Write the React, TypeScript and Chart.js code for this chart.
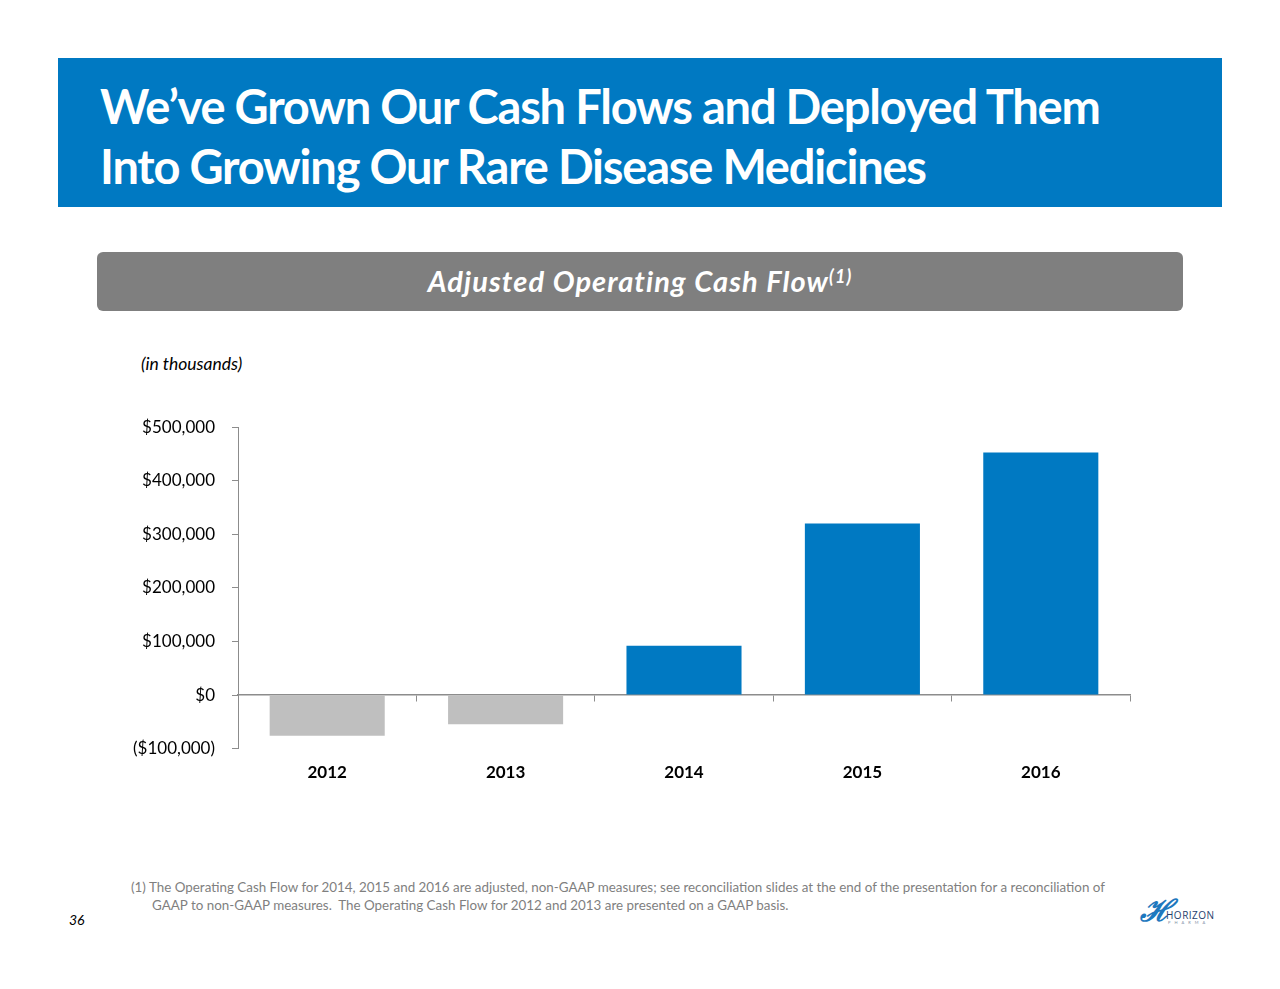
import React, { useEffect, useRef } from "react";
import { Chart, registerables } from "chart.js";

Chart.register(...registerables);

const categories = ["2012", "2013", "2014", "2015", "2016"];
const cashFlowValues = [-76000, -54500, 92300, 320300, 453000];
const barColors = ["#BFBFBF", "#BFBFBF", "#0079C2", "#0079C2", "#0079C2"];
const yTickValues = [-100000, 0, 100000, 200000, 300000, 400000, 500000];

const fmt = (v: number) => {
  const s = "$" + Math.abs(v).toLocaleString("en-US");
  return v < 0 ? "(" + s + ")" : s;
};

const AXIS_GREY = "#8C8C8C";
const FONT = "Lato, 'Open Sans', sans-serif";

function BarChart() {
  const ref = useRef<HTMLCanvasElement | null>(null);
  useEffect(() => {
    if (!ref.current) return;
    const chart = new Chart(ref.current, {
      type: "bar",
      data: {
        labels: categories,
        datasets: [
          {
            data: cashFlowValues,
            backgroundColor: barColors,
            borderWidth: 0,
            barPercentage: 0.645,
            categoryPercentage: 1,
          },
        ],
      },
      options: {
        animation: false,
        responsive: false,
        maintainAspectRatio: false,
        layout: { padding: { top: 27, right: 30, bottom: 0, left: 0 } },
        plugins: { legend: { display: false }, tooltip: { enabled: false } },
        scales: {
          x: {
            type: "category",
            position: "bottom",
            offset: true,
            grid: { display: false, drawTicks: false },
            border: { display: false },
            ticks: {
              padding: 14,
              color: "#000000",
              font: { family: FONT, size: 17, weight: "bold" },
            },
            afterFit: (s: any) => {
              s.height = 51.3;
            },
          },
          xz: {
            type: "category",
            labels: categories,
            position: { y: 0 },
            offset: true,
            ticks: { display: false },
            grid: {
              offset: true,
              drawOnChartArea: false,
              drawTicks: true,
              tickLength: 6,
              color: AXIS_GREY,
              lineWidth: 1,
            },
            border: { display: true, color: AXIS_GREY, width: 1.5 },
          } as any,
          y: {
            type: "linear",
            min: -100000,
            max: 500000,
            afterBuildTicks: (s: any) => {
              s.ticks = yTickValues.map((v) => ({ value: v }));
            },
            grid: {
              drawOnChartArea: false,
              drawTicks: true,
              tickLength: 6,
              color: AXIS_GREY,
              lineWidth: 1,
            },
            border: { display: true, color: AXIS_GREY, width: 1 },
            ticks: {
              padding: 17,
              color: "#000000",
              font: { family: FONT, size: 17 },
              callback: (v: any) => fmt(Number(v)),
            },
            afterFit: (s: any) => {
              s.width = 138;
            },
          },
        },
      } as any,
    });
    return () => chart.destroy();
  }, []);
  return (
    <canvas
      ref={ref}
      width={1060}
      height={400}
      style={{ position: "absolute", left: 100, top: 400, width: 1060, height: 400 }}
    />
  );
}

export default function App() {
  useEffect(() => {
    document.body.style.margin = "0";
  }, []);
  return (
    <div
      style={{
        position: "relative",
        width: 1280,
        height: 989,
        background: "#ffffff",
        overflow: "hidden",
        fontFamily: FONT,
      }}
    >
      <div
        style={{
          position: "absolute",
          left: 58,
          top: 58,
          width: 1164,
          height: 149,
          background: "#0079C2",
        }}
      />
      <div
        style={{
          position: "absolute",
          left: 100,
          top: 76,
          color: "#ffffff",
          fontWeight: 700,
          fontSize: 47,
          letterSpacing: -1.2,
          lineHeight: "60px",
          whiteSpace: "nowrap",
        }}
      >
        <div>We’ve Grown Our Cash Flows and Deployed Them</div>
        <div>Into Growing Our Rare Disease Medicines</div>
      </div>
      <div
        style={{
          position: "absolute",
          left: 97,
          top: 252,
          width: 1086,
          height: 59,
          background: "#7F7F7F",
          borderRadius: 6,
        }}
      />
      <div
        style={{
          position: "absolute",
          left: 97,
          top: 262,
          width: 1086,
          textAlign: "center",
          color: "#ffffff",
          fontWeight: 700,
          fontStyle: "italic",
          fontSize: 29,
          letterSpacing: 1.1,
          lineHeight: "38px",
          whiteSpace: "nowrap",
        }}
      >
        Adjusted Operating Cash Flow
        <sup style={{ fontSize: 18, verticalAlign: "top", position: "relative", top: -5 }}>(1)</sup>
      </div>
      <div
        style={{
          position: "absolute",
          left: 141,
          top: 353,
          fontStyle: "italic",
          fontSize: 17.5,
          color: "#000000",
          whiteSpace: "nowrap",
        }}
      >
        (in thousands)
      </div>
      <BarChart />
      <div
        style={{
          position: "absolute",
          left: 131,
          top: 878,
          fontSize: 13.4,
          lineHeight: "18px",
          color: "#7F7F7F",
          whiteSpace: "nowrap",
        }}
      >
        <div>
          (1) The Operating Cash Flow for 2014, 2015 and 2016 are adjusted, non-GAAP measures; see reconciliation
          slides at the end of the presentation for a reconciliation of
        </div>
        <div style={{ paddingLeft: 21 }}>
          GAAP to non-GAAP measures.&nbsp; The Operating Cash Flow for 2012 and 2013 are presented on a GAAP basis.
        </div>
      </div>
      <div
        style={{
          position: "absolute",
          left: 69,
          top: 911,
          fontStyle: "italic",
          fontSize: 14,
          color: "#000000",
        }}
      >
        36
      </div>
      <div style={{ position: "absolute", left: 1140, top: 893, width: 80, height: 36 }}>
        <div
          style={{
            position: "absolute",
            left: 0,
            top: -4,
            fontSize: 30,
            fontStyle: "italic",
            fontWeight: 900,
            color: "#1E78BE",
            fontFamily: "'DejaVu Serif', serif",
            letterSpacing: -6,
          }}
        >
          ℋ
        </div>
        <div
          style={{
            position: "absolute",
            left: 26,
            top: 15,
            fontSize: 10,
            color: "#1F3F6E",
            letterSpacing: 0.5,
            fontFamily: "'Open Sans', sans-serif",
          }}
        >
          HORIZON
        </div>
        <div
          style={{
            position: "absolute",
            left: 28,
            top: 27,
            fontSize: 4,
            color: "#7F8FA6",
            letterSpacing: 4,
          }}
        >
          PHARMA
        </div>
      </div>
    </div>
  );
}
